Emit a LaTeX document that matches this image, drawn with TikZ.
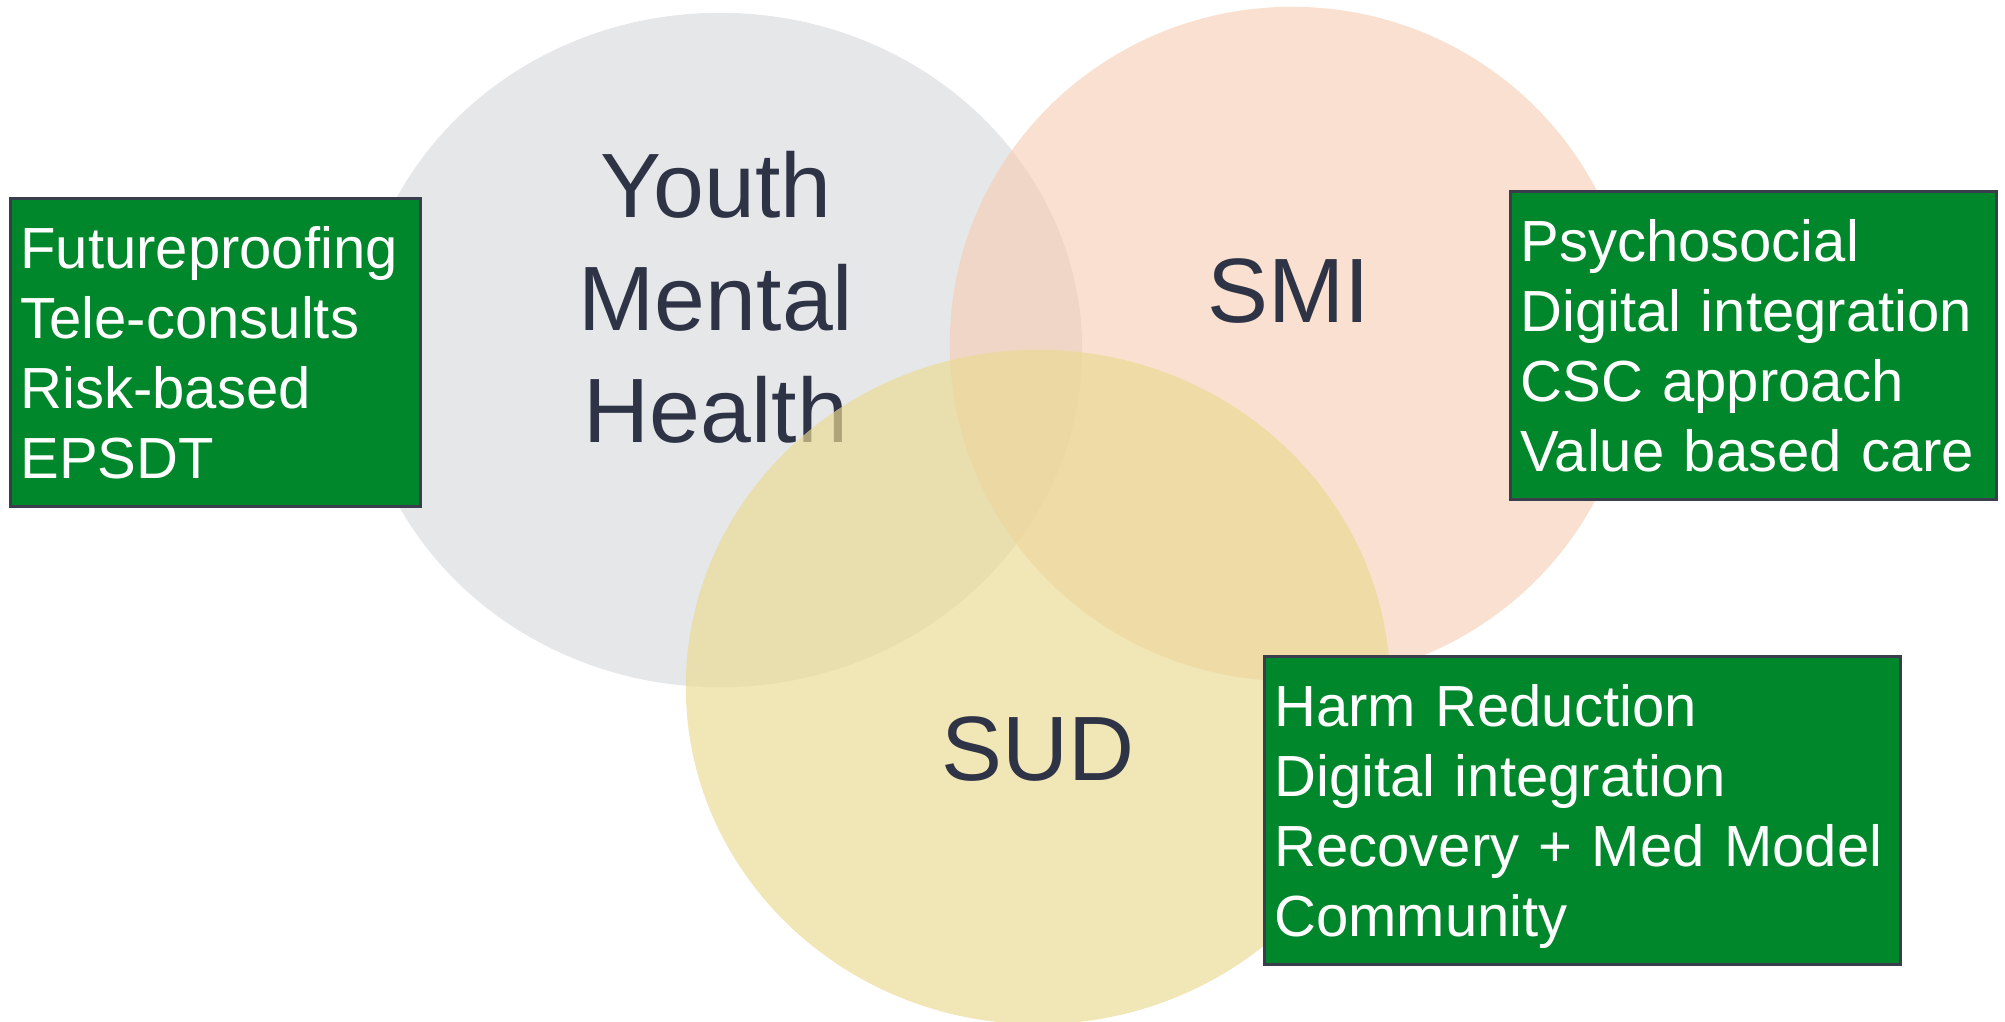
\documentclass[tikz,border=0pt]{standalone}
\usepackage{fontspec}
\setmainfont{Liberation Sans}
\definecolor{ymhgray}{RGB}{230,231,233}
\definecolor{smipeach}{RGB}{247,204,176}
\definecolor{sudyellow}{RGB}{234,218,147}
\definecolor{labelnavy}{RGB}{46,52,70}
\definecolor{boxgreen}{RGB}{0,134,43}
\definecolor{boxline}{RGB}{58,62,76}
\tikzset{
	venn/.style 2 args={fill=#1,fill opacity=#2},
	bigword/.style={text=labelnavy,font=\fontsize{26}{31.9}\selectfont,align=center,text width=5cm,anchor=base},
	greenbox/.style={draw=boxline,fill=boxgreen,line width=0.8pt,text=white,font=\fontsize{16.5}{19.9}\selectfont,align=left,anchor=north west,inner xsep=0.1cm,inner ysep=0.1cm,text height=0.6cm,text depth=2.28cm}
}
\begin{document}
\begin{tikzpicture}[x=0.01cm,y=-0.01cm]
	\useasboundingbox (0,0) rectangle (2005,1022);

	\fill [venn={ymhgray}{1}] (720,350) ellipse [x radius=3.62cm, y radius=3.37cm];
	\node [bigword] (ymh) at (716,218) {Youth\\Mental\\Health};

	\fill [venn={smipeach}{0.6}] (1292,344) ellipse [x radius=3.42cm, y radius=3.37cm];
	\node [bigword] (smi) at (1289,323) {SMI};

	\fill [venn={sudyellow}{0.68}] (1038,687) ellipse [x radius=3.52cm, y radius=3.37cm];
	\node [bigword] (sud) at (1038,781) {SUD};

	\node [greenbox,text width=3.9cm] (ymhbox) at (9,197) {Futureproofing\\Tele-consults\\Risk-based\\EPSDT};
	\node [greenbox,text width=4.66cm] (smibox) at (1509,190) {Psychosocial\\Digital integration\\CSC approach\\Value based care};
	\node [greenbox,text width=6.16cm] (sudbox) at (1263,655) {Harm Reduction\\Digital integration\\Recovery + Med Model\\Community};
\end{tikzpicture}
\end{document}
